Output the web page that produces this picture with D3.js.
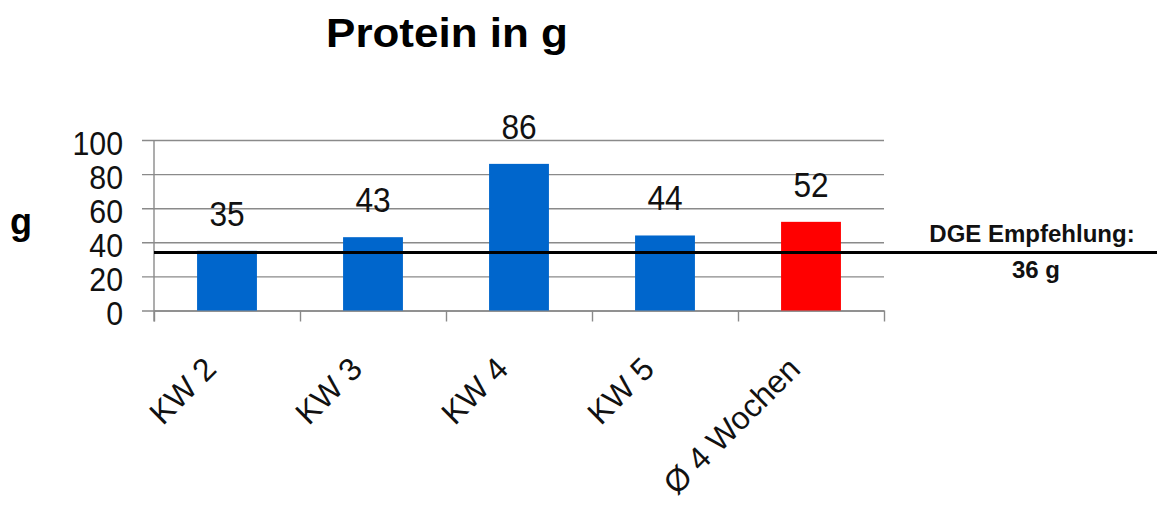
<!DOCTYPE html>
<html>
<head>
<meta charset="utf-8">
<script src="https://cdn.jsdelivr.net/npm/d3@7"></script>
<style>
  html, body { margin: 0; padding: 0; background: #fff; }
  svg { display: block; font-family: "Liberation Sans", Arial, sans-serif; }
</style>
</head>
<body>
<svg id="chart" width="1157" height="505"></svg>
<script>
// ---- data ----
const categories = ["KW 2", "KW 3", "KW 4", "KW 5", "\u00D8 4 Wochen"];
const values = [35, 43, 86, 44, 52];
const barColors = ["#0066CC", "#0066CC", "#0066CC", "#0066CC", "#FF0000"];
const yTicks = [0, 20, 40, 60, 80, 100];
const referenceLevel = 34;
const referenceLabels = ["DGE Empfehlung:", "36 g"];
const titleText = "Protein in g";
const yAxisTitle = "g";

// ---- layout ----
const svg = d3.select("#chart");
const plotLeft = 154, plotRight = 884, plotTop = 140, plotBottom = 310.5;

const x = d3.scaleBand().domain(categories).range([plotLeft, plotRight])
  .paddingInner(0.59).paddingOuter(0.295);
const y = d3.scaleLinear().domain([0, 100]).range([plotBottom, plotTop]);
const xb = d3.scaleLinear().domain([0, categories.length]).range([plotLeft, plotRight]);

const grey = "#8a8a8a";

// gridlines + y labels
const yAxis = d3.axisLeft(y).tickValues(yTicks)
  .tickSizeInner(-(plotRight - 142)).tickSizeOuter(0).tickPadding(19);
const gy = svg.append("g").attr("transform", "translate(142,0)").call(yAxis);
gy.select(".domain").remove();
gy.selectAll(".tick line").attr("stroke", grey).attr("stroke-width", 1.4);
gy.selectAll(".tick text")
  .attr("font-size", 33).attr("fill", "#111")
  .attr("dy", null).attr("y", 0)
  .attr("transform", "translate(0,14) scale(0.92,1)")
  .attr("x", -19 / 0.92);

// vertical axis line
svg.append("line").attr("x1", plotLeft).attr("x2", plotLeft)
  .attr("y1", y(100)).attr("y2", plotBottom + 11)
  .attr("stroke", grey).attr("stroke-width", 1.4);

// x axis with boundary ticks
const xAxis = d3.axisBottom(xb).tickValues(d3.range(categories.length + 1))
  .tickSizeInner(11).tickSizeOuter(0).tickFormat("");
const gx = svg.append("g").attr("transform", `translate(0,${plotBottom})`).call(xAxis);
gx.selectAll("path, line").attr("stroke", grey).attr("stroke-width", 1.4);

// bars
svg.append("g").selectAll("rect").data(values).join("rect")
  .attr("x", (d, i) => x(categories[i]))
  .attr("y", d => y(d))
  .attr("width", x.bandwidth())
  .attr("height", d => y(0) - y(d))
  .attr("fill", (d, i) => barColors[i]);

// value labels
svg.append("g").selectAll("text").data(values).join("text")
  .attr("transform", (d, i) => `translate(${x(categories[i]) + x.bandwidth() / 2},${y(d) - 25}) scale(0.88,1)`)
  .attr("text-anchor", "middle")
  .attr("font-size", 36).attr("fill", "#111")
  .text(d => d);

// reference line
svg.append("line").attr("x1", plotLeft).attr("x2", 1157)
  .attr("y1", y(referenceLevel)).attr("y2", y(referenceLevel))
  .attr("stroke", "#000").attr("stroke-width", 3);

// reference labels
svg.append("text").attr("x", 1032).attr("y", 242).attr("text-anchor", "middle")
  .attr("font-size", 24).attr("font-weight", "bold").attr("fill", "#111")
  .text(referenceLabels[0]);
svg.append("text").attr("x", 1036).attr("y", 278).attr("text-anchor", "middle")
  .attr("font-size", 24).attr("font-weight", "bold").attr("fill", "#111")
  .text(referenceLabels[1]);

// x category labels
svg.append("g").selectAll("text").data(categories).join("text")
  .attr("transform", d => `translate(${x(d) + x.bandwidth() / 2 - 9},371) rotate(-45)`)
  .attr("text-anchor", "end")
  .attr("font-size", 32).attr("fill", "#111")
  .text(d => d);

// title
svg.append("text").attr("transform", "translate(447,47) scale(1.1,1)")
  .attr("text-anchor", "middle").attr("font-size", 40).attr("font-weight", "bold")
  .attr("fill", "#000").text(titleText);

// y axis title
svg.append("text").attr("x", 10).attr("y", 234)
  .attr("font-size", 36).attr("font-weight", "bold").attr("fill", "#000")
  .text(yAxisTitle);
</script>
</body>
</html>
